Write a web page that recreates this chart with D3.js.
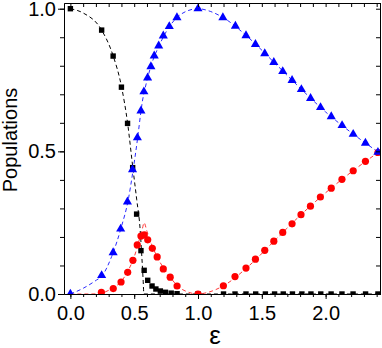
<!DOCTYPE html>
<html>
<head>
<meta charset="utf-8">
<script src="https://cdn.jsdelivr.net/npm/d3@7"></script>
<style>
  body { margin: 0; background: #fff; }
  svg { display: block; font-family: "Liberation Sans", Arial, sans-serif; }
</style>
</head>
<body>
<svg id="graph" width="382" height="348"></svg>
<script>
// markers (simulation)
var epsSquare = [0, 0.245, 0.335, 0.40, 0.448, 0.488, 0.519, 0.553, 0.578, 0.606, 0.64, 0.67, 0.705, 0.745, 0.79, 0.836,
                 1.0, 1.2, 1.29, 1.376, 1.452, 1.528, 1.6, 1.668, 1.74, 1.814, 1.885, 1.962, 2.043, 2.128, 2.215, 2.313, 2.41];
var popSquare = [1.0, 0.925, 0.834, 0.725, 0.598, 0.443, 0.28, 0.152, 0.083, 0.048, 0.028, 0.0175, 0.0105, 0.006, 0.003, 0.001,
                 0, 0, 0, 0, 0, 0, 0, 0, 0, 0, 0, 0, 0, 0, 0, 0, 0];

var epsCircle = [0.243, 0.336, 0.397, 0.449, 0.49, 0.524, 0.553, 0.579, 0.606, 0.642, 0.68, 0.728, 0.782, 0.836,
                 1.0, 1.199, 1.29, 1.376, 1.45, 1.523, 1.594, 1.664, 1.737, 1.807, 1.881, 1.959, 2.044, 2.128, 2.216, 2.312, 2.41];
var popCircle = [0.006, 0.019, 0.042, 0.076, 0.118, 0.172, 0.203, 0.207, 0.19, 0.16, 0.13, 0.088, 0.059, 0.028,
                 0.0, 0.029, 0.061, 0.091, 0.122, 0.153, 0.185, 0.216, 0.246, 0.278, 0.308, 0.340, 0.371, 0.402, 0.432, 0.465, 0.496];

var epsTriangle = [0, 0.245, 0.335, 0.394, 0.447, 0.487, 0.525, 0.553, 0.576, 0.605, 0.631, 0.657, 0.692, 0.728, 0.775, 0.835,
                   1.0, 1.195, 1.293, 1.376, 1.45, 1.523, 1.594, 1.664, 1.737, 1.81, 1.882, 1.96, 2.044, 2.129, 2.216, 2.312, 2.41];
var popTriangle = [0, 0.065, 0.145, 0.228, 0.323, 0.436, 0.548, 0.642, 0.709, 0.758, 0.797, 0.835, 0.870, 0.905, 0.938, 0.969,
                   1.0, 0.969, 0.939, 0.906, 0.875, 0.843, 0.812, 0.780, 0.749, 0.717, 0.686, 0.654, 0.622, 0.591, 0.560, 0.529, 0.497];

// dashed curves (theory)
var epsBlackLine = [0, 0.1, 0.245, 0.335, 0.4, 0.448, 0.488, 0.52, 0.545, 0.56, 0.57, 0.576, 1.0, 2.43];
var popBlackLine = [1.0, 0.985, 0.925, 0.835, 0.728, 0.6, 0.448, 0.33, 0.235, 0.13, 0.05, 0, 0, 0];

var epsRedLine = [0, 0.15, 0.224, 0.296, 0.336, 0.4, 0.45, 0.5, 0.54, 0.565, 0.577, 0.6, 0.64, 0.68, 0.72, 0.78, 0.845, 0.92, 1.0,
                  1.08, 1.2, 1.4, 1.6, 1.8, 2.0, 2.2, 2.43];
var popRedLine = [0, 0, 0.001, 0.012, 0.022, 0.045, 0.08, 0.13, 0.19, 0.23, 0.25, 0.22, 0.17, 0.13, 0.098, 0.06, 0.026, 0.007, 0,
                  0.006, 0.029, 0.099, 0.187, 0.275, 0.355, 0.427, 0.502];

var epsBlueLine = [0, 0.1, 0.205, 0.245, 0.323, 0.4, 0.453, 0.49, 0.527, 0.553, 0.566, 0.58, 0.63, 0.7, 0.78, 0.85, 0.92, 1.0,
                   1.1, 1.2, 1.4, 1.6, 1.8, 2.0, 2.2, 2.43];
var popBlueLine = [0, 0.02, 0.049, 0.062, 0.131, 0.236, 0.329, 0.43, 0.547, 0.64, 0.68, 0.71, 0.797, 0.875, 0.94, 0.975, 0.993, 1.0,
                   0.99, 0.968, 0.897, 0.81, 0.722, 0.638, 0.566, 0.492];

var xMajor = [0, 0.5, 1.0, 1.5, 2.0];
var yMajor = [0, 0.5, 1.0];

var svg = d3.select("#graph");

var x = d3.scaleLinear().domain([-0.05, 2.43]).range([64, 380.5]),
	y = d3.scaleLinear().domain([0, 1.02]).range([294, 3]);

var xMinor = d3.range(0, 2.41, 0.1),
	yMinor = d3.range(0, 1.01, 0.1);

function zip(a, b) { return a.map(function(d, i) { return [d, b[i]]; }); }

svg.append("clipPath").attr("id", "plot")
   .append("rect")
   .attr("x", 64).attr("y", 3)
   .attr("width", 380.5 - 64).attr("height", 294 - 3);

var g = svg.append("g").attr("clip-path", "url(#plot)");

var line = d3.line()
	.x(function(d) { return x(d[0]); })
	.y(function(d) { return y(d[1]); })
	.curve(d3.curveMonotoneX);

g.append("path").datum(zip(epsBlackLine, popBlackLine))
 .attr("d", line).attr("fill", "none").attr("stroke", "#000")
 .attr("stroke-width", 1).attr("stroke-dasharray", "4,3");

g.append("path").datum(zip(epsRedLine, popRedLine))
 .attr("d", line).attr("fill", "none").attr("stroke", "#ff2020")
 .attr("stroke-width", 0.9).attr("stroke-dasharray", "4,3");

g.append("path").datum(zip(epsBlueLine, popBlueLine))
 .attr("d", line).attr("fill", "none").attr("stroke", "#2a2aff")
 .attr("stroke-width", 1).attr("stroke-dasharray", "4,3");

g.selectAll(".sq")
 .data(zip(epsSquare, popSquare))
 .enter().append("rect")
 .attr("class", "sq")
 .attr("x", function(d) { return x(d[0]) - 2.7; })
 .attr("y", function(d) { return y(d[1]) - 2.7; })
 .attr("width", 5.4).attr("height", 5.4)
 .attr("fill", "#000");

g.selectAll(".ci")
 .data(zip(epsCircle, popCircle))
 .enter().append("circle")
 .attr("class", "ci")
 .attr("cx", function(d) { return x(d[0]); })
 .attr("cy", function(d) { return y(d[1]); })
 .attr("r", 3.6)
 .attr("fill", "#ff0000");

var tri = d3.symbol().type(d3.symbolTriangle).size(36);

g.selectAll(".tr")
 .data(zip(epsTriangle, popTriangle))
 .enter().append("path")
 .attr("class", "tr")
 .attr("transform", function(d) { return "translate(" + x(d[0]) + "," + y(d[1]) + ")"; })
 .attr("d", tri)
 .attr("fill", "#0000ff");

// axes: outward ticks on bottom/left, inward ticks on top/right
function styleAxis(sel) {
	sel.selectAll("path, line").attr("stroke", "#000").attr("stroke-width", 1);
	sel.selectAll("text").attr("fill", "#000").style("font-size", "20px")
	   .style("font-family", "'Liberation Sans', Arial, sans-serif");
}

svg.append("g").attr("transform", "translate(0,294)")
   .call(d3.axisBottom(x).tickValues(xMinor).tickSize(3).tickSizeOuter(0).tickFormat(""))
   .call(styleAxis);
svg.append("g").attr("transform", "translate(0,294)")
   .call(d3.axisBottom(x).tickValues(xMajor).tickSize(5).tickSizeOuter(0).tickPadding(7).tickFormat(d3.format(".1f")))
   .call(styleAxis);

svg.append("g").attr("transform", "translate(64,0)")
   .call(d3.axisLeft(y).tickValues(yMinor).tickSize(4).tickSizeOuter(0).tickFormat(""))
   .call(styleAxis);
svg.append("g").attr("transform", "translate(64,0)")
   .call(d3.axisLeft(y).tickValues(yMajor).tickSize(6).tickSizeOuter(0).tickPadding(2).tickFormat(d3.format(".1f")))
   .call(styleAxis);

svg.append("g").attr("transform", "translate(0,3)")
   .call(d3.axisTop(x).tickValues(xMinor).tickSize(-4).tickSizeOuter(0).tickFormat(""))
   .call(styleAxis);

svg.append("g").attr("transform", "translate(380,0)")
   .call(d3.axisRight(y).tickValues(yMinor).tickSize(-4).tickSizeOuter(0).tickFormat(""))
   .call(styleAxis);

svg.append("text")
   .attr("transform", "translate(17,140) rotate(-90)")
   .attr("text-anchor", "middle")
   .style("font-size", "20px")
   .text("Populations");

svg.append("text")
   .attr("x", 215).attr("y", 344)
   .attr("text-anchor", "middle")
   .style("font-size", "26px")
   .text("ε");
</script>
</body>
</html>
